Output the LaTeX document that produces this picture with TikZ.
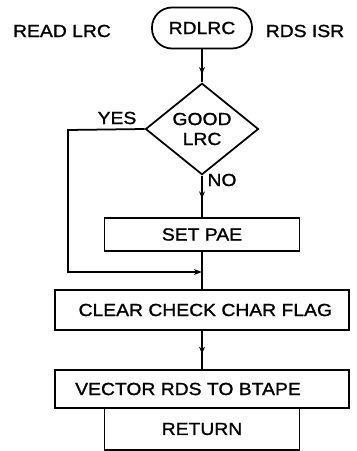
\documentclass[tikz,border=0pt]{standalone}
\usepackage{fontspec}
\setmainfont{Liberation Sans}[FakeStretch=1.1,FakeBold=1.2]
\usetikzlibrary{shapes.geometric,decorations.markings,arrows.meta}
\tikzset{
  flowline/.style={line width=1.5pt},
  flowtext/.style={font=\fontsize{15}{17}\selectfont},
  stepbox/.style={draw,flowline,flowtext,inner sep=0pt},
  midarrow/.style={postaction={decorate},
    decoration={markings,mark=at position #1 with {\arrow{Stealth[length=6pt,width=5pt]}}}}
}
\begin{document}
\begin{tikzpicture}[x=0.03cm,y=-0.03cm]
                \useasboundingbox (0,0) rectangle (356,451);

                \coordinate (YesCorner) at (68,130);
                \coordinate (Join) at (202,272);

                \node[stepbox,rounded corners=0.6cm,minimum width=3cm,minimum height=1.23cm] (Start) at (202,28) {RDLRC};
                \node[flowtext] (ReadLabel) at (62,31) {READ LRC};
                \node[flowtext] (IsrLabel) at (305,31) {RDS ISR};
                \node[stepbox,diamond,align=center,minimum width=3.39cm,minimum height=2.34cm] (Decide) at (202,129) {GOOD\\LRC};
                \node[stepbox,minimum width=5.85cm,minimum height=0.99cm] (SetPae) at (202,234.5) {SET PAE};
                \node[stepbox,minimum width=8.82cm,minimum height=1.2cm] (ClearFlag) at (202,310) {\hspace*{0.2cm}CLEAR CHECK CHAR FLAG};
                \node[stepbox,minimum width=8.82cm,minimum height=1.14cm] (Vector) at (202,389) {VECTOR RDS TO BTAPE\hspace*{0.84cm}};
                \node[stepbox,minimum width=5.85cm,minimum height=1.26cm] (Return) at (202,429) {RETURN};

                \node[flowtext] (YesLabel) at (117,118) {YES};
                \node[flowtext] (NoLabel) at (222,180) {NO};

                \draw[flowline,midarrow=0.75] (Start) -- (Decide);
                \draw[flowline,midarrow=0.55] (Decide) -- (SetPae);
                \draw[flowline,-{Stealth[length=7pt,width=5pt]}] (Decide.west) -- (YesCorner) |- (Join);
                \draw[flowline] (SetPae) -- (ClearFlag);
                \draw[flowline,midarrow=0.6] (ClearFlag) -- (Vector);
            \end{tikzpicture}
\end{document}
